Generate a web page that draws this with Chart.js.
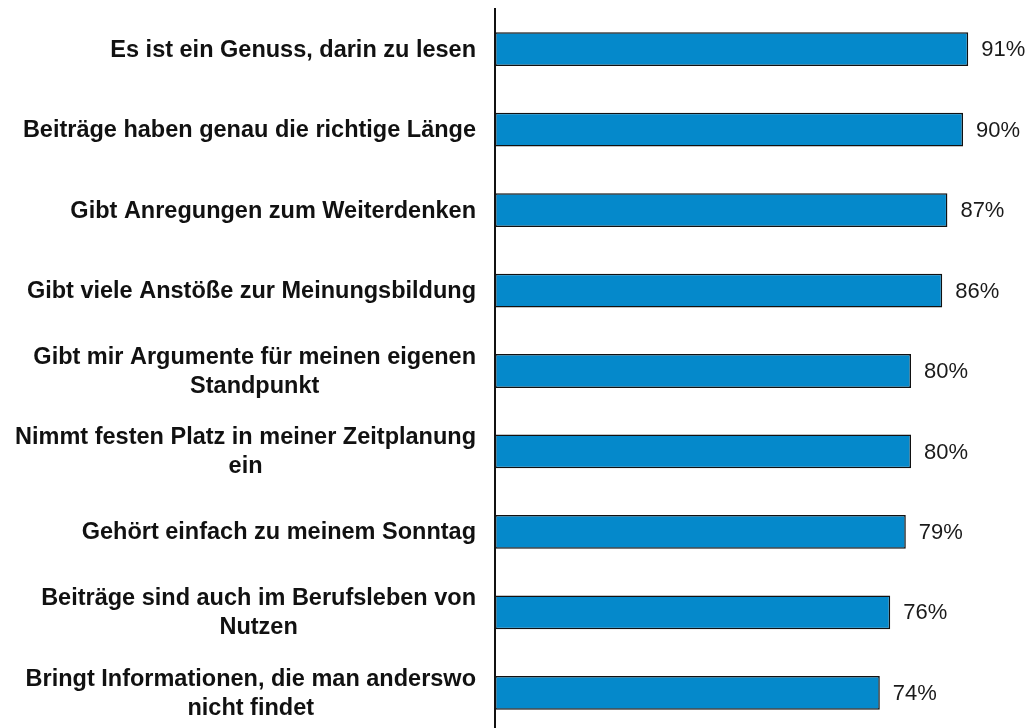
<!DOCTYPE html>
<html>
<head>
<meta charset="utf-8">
<script src="https://cdn.jsdelivr.net/npm/chart.js@4/dist/chart.umd.min.js"></script>
<style>
  html, body { margin: 0; padding: 0; background: #fff; overflow: hidden; }
  #wrap { position: relative; width: 1029px; height: 740px; }
</style>
</head>
<body>
<div id="wrap"><canvas id="grafico"></canvas></div>
<script>
// categorias (linhas quebradas como no original)
const categorias = [
    "Es ist ein Genuss, darin zu lesen",
    "Beiträge haben genau die richtige Länge",
    "Gibt Anregungen zum Weiterdenken",
    "Gibt viele Anstöße zur Meinungsbildung",
    ["Gibt mir Argumente für meinen eigenen", "Standpunkt"],
    ["Nimmt festen Platz in meiner Zeitplanung", "ein"],
    "Gehört einfach zu meinem Sonntag",
    ["Beiträge sind auch im Berufsleben von", "Nutzen"],
    ["Bringt Informationen, die man anderswo", "nicht findet"]
];
const valores = [91, 90, 87, 86, 80, 80, 79, 76, 74];
const escalaMin = 0;
const escalaMax = 100;

const fonteRotulo = 'bold 23.5px "Liberation Sans", Arial, sans-serif';
const fonteValor = '22px "Liberation Sans", Arial, sans-serif';

// rótulos das categorias: bloco alinhado à direita, linhas centralizadas no bloco
const rotulosCategoria = {
    id: 'rotulosCategoria',
    afterDraw(chart) {
        const ctx = chart.ctx;
        const eixo = chart.scales.y;
        const direita = eixo.right - 19;
        const alturaLinha = 29;
        ctx.save();
        ctx.font = fonteRotulo;
        ctx.fillStyle = '#111';
        ctx.textAlign = 'center';
        ctx.textBaseline = 'middle';
        categorias.forEach((cat, i) => {
            const linhas = Array.isArray(cat) ? cat : [cat];
            const largura = Math.max(...linhas.map(l => ctx.measureText(l).width));
            const cx = direita - largura / 2;
            const yc = eixo.getPixelForValue(i);
            const y0 = yc - (linhas.length - 1) * alturaLinha / 2;
            linhas.forEach((l, k) => ctx.fillText(l, cx, y0 + k * alturaLinha + 1));
        });
        ctx.restore();
    }
};

// desenha o valor "xx%" ao lado de cada barra
const rotulosValor = {
    id: 'rotulosValor',
    afterDatasetsDraw(chart) {
        const ctx = chart.ctx;
        const meta = chart.getDatasetMeta(0);
        ctx.save();
        ctx.font = fonteValor;
        ctx.fillStyle = '#1a1a1a';
        ctx.textAlign = 'left';
        ctx.textBaseline = 'middle';
        meta.data.forEach((barra, i) => {
            ctx.fillText(valores[i] + '%', barra.x + 13, barra.y + 1);
        });
        ctx.restore();
    }
};

new Chart(document.getElementById('grafico'), {
    type: 'bar',
    data: {
        labels: categorias,
        datasets: [{
            data: valores,
            backgroundColor: '#0589CB',
            borderColor: '#111',
            borderWidth: 1.5,
            borderSkipped: false,
            barPercentage: 0.42,
            categoryPercentage: 1
        }]
    },
    options: {
        indexAxis: 'y',
        responsive: true,
        maintainAspectRatio: false,
        animation: false,
        layout: { padding: { top: 9, bottom: 7, left: 0, right: 14 } },
        plugins: { legend: { display: false }, tooltip: { enabled: false } },
        scales: {
            x: { display: false, min: escalaMin, max: escalaMax },
            y: {
                grid: { display: false, drawTicks: false },
                border: { display: true, color: '#111', width: 2 },
                ticks: { display: false },
                afterFit: s => {
                    s.width = 495;
                    s.paddingTop = 0;
                    s.paddingBottom = 0;
                }
            }
        }
    },
    plugins: [rotulosValor, rotulosCategoria]
});
</script>
</body>
</html>
